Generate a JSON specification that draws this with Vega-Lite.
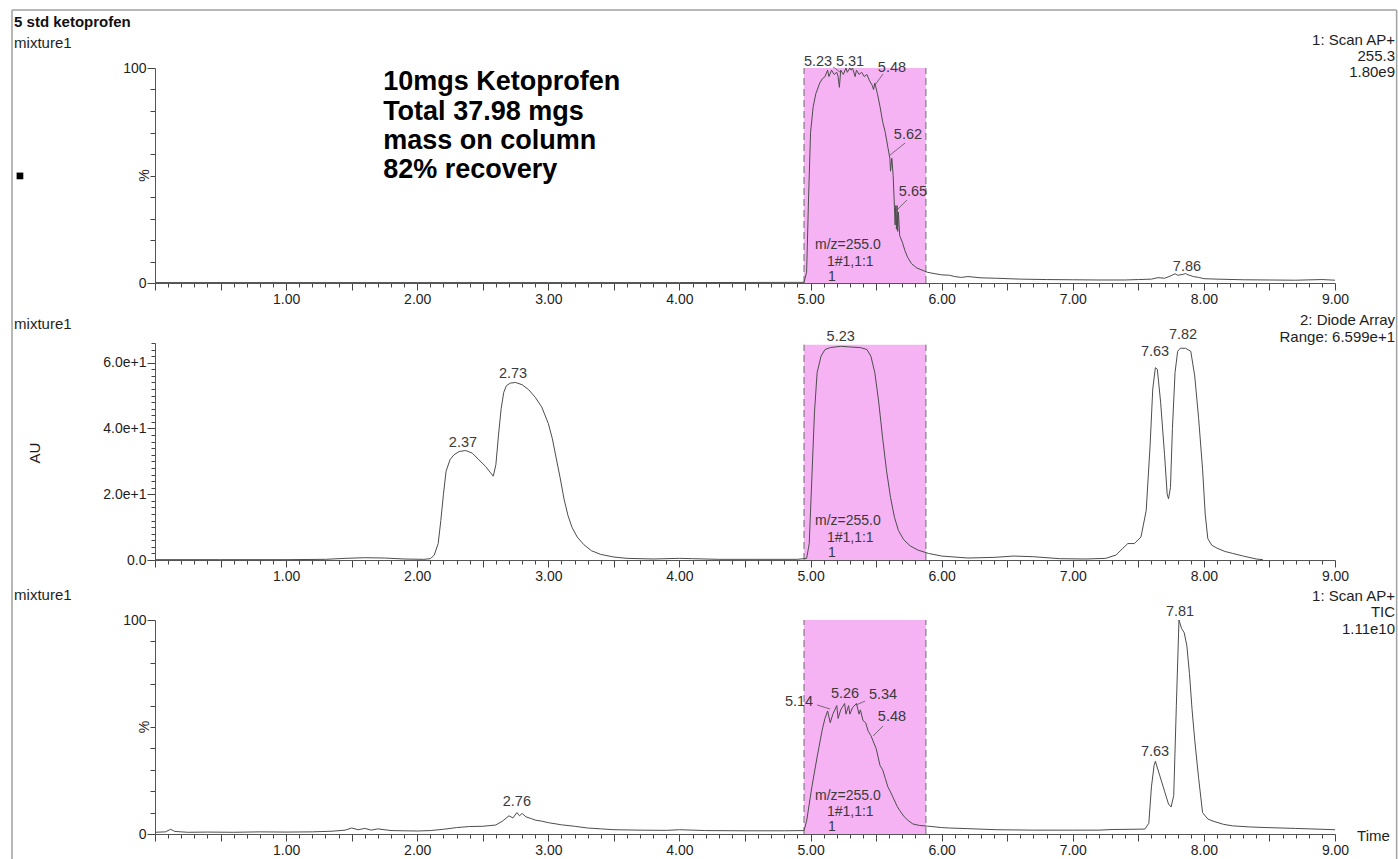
{
  "$schema": "https://vega.github.io/schema/vega-lite/v6.json",
  "padding": {"left": 11, "top": 9, "right": 0, "bottom": 0},
  "background": "white",
  "bounds": "flush",
  "spacing": 60,
  "config": {
    "view": {"stroke": null},
    "font": "Liberation Sans",
    "text": {"font": "Liberation Sans", "fontSize": 14, "color": "#2a2a2a"},
    "axis": {"grid": false, "title": null, "domainColor": "#555555", "tickColor": "#444444", "labelColor": "#1e1e1e", "labelFont": "Liberation Sans", "labelFontSize": 14, "domainWidth": 1, "tickWidth": 1, "labelOverlap": false, "labelFlush": false}
  },
  "datasets": {
    "ms255": [
      {"t": 0.0, "v": 0.2}, {"t": 1.0, "v": 0.2}, {"t": 2.0, "v": 0.2}, {"t": 3.0, "v": 0.2}, {"t": 4.0, "v": 0.2}, {"t": 4.95, "v": 0.3},
      {"t": 4.97, "v": 5}, {"t": 4.985, "v": 40}, {"t": 5.0, "v": 70}, {"t": 5.02, "v": 82}, {"t": 5.04, "v": 88}, {"t": 5.07, "v": 93},
      {"t": 5.09, "v": 95}, {"t": 5.11, "v": 96}, {"t": 5.13, "v": 99}, {"t": 5.14, "v": 96}, {"t": 5.16, "v": 99}, {"t": 5.18, "v": 97},
      {"t": 5.2, "v": 98}, {"t": 5.21, "v": 96}, {"t": 5.22, "v": 91}, {"t": 5.23, "v": 99}, {"t": 5.25, "v": 97}, {"t": 5.27, "v": 100},
      {"t": 5.28, "v": 98}, {"t": 5.3, "v": 100}, {"t": 5.31, "v": 99}, {"t": 5.32, "v": 100}, {"t": 5.34, "v": 96}, {"t": 5.35, "v": 99},
      {"t": 5.37, "v": 97}, {"t": 5.39, "v": 98}, {"t": 5.41, "v": 96}, {"t": 5.43, "v": 97}, {"t": 5.45, "v": 94}, {"t": 5.47, "v": 92},
      {"t": 5.48, "v": 90}, {"t": 5.49, "v": 93}, {"t": 5.51, "v": 88}, {"t": 5.53, "v": 82}, {"t": 5.55, "v": 75}, {"t": 5.57, "v": 70},
      {"t": 5.59, "v": 63}, {"t": 5.605, "v": 58}, {"t": 5.61, "v": 52}, {"t": 5.62, "v": 58}, {"t": 5.63, "v": 50}, {"t": 5.64, "v": 35},
      {"t": 5.645, "v": 27}, {"t": 5.65, "v": 36}, {"t": 5.655, "v": 25}, {"t": 5.66, "v": 36}, {"t": 5.665, "v": 24}, {"t": 5.67, "v": 33},
      {"t": 5.68, "v": 22}, {"t": 5.7, "v": 19}, {"t": 5.72, "v": 15}, {"t": 5.74, "v": 12}, {"t": 5.77, "v": 9}, {"t": 5.81, "v": 7},
      {"t": 5.85, "v": 6}, {"t": 5.89, "v": 5}, {"t": 5.95, "v": 4.3}, {"t": 6.0, "v": 3.8}, {"t": 6.06, "v": 3.6}, {"t": 6.1, "v": 3.0},
      {"t": 6.15, "v": 2.6}, {"t": 6.2, "v": 3.0}, {"t": 6.3, "v": 2.4}, {"t": 6.42, "v": 2.2}, {"t": 6.6, "v": 1.8}, {"t": 6.8, "v": 1.6},
      {"t": 7.0, "v": 1.5}, {"t": 7.2, "v": 1.4}, {"t": 7.4, "v": 1.4}, {"t": 7.5, "v": 1.6}, {"t": 7.6, "v": 1.8}, {"t": 7.65, "v": 2.5},
      {"t": 7.7, "v": 2.2}, {"t": 7.75, "v": 3.4}, {"t": 7.78, "v": 4.3}, {"t": 7.8, "v": 3.6}, {"t": 7.84, "v": 4.0}, {"t": 7.86, "v": 4.4},
      {"t": 7.88, "v": 3.8}, {"t": 7.92, "v": 3.0}, {"t": 7.96, "v": 2.6}, {"t": 8.0, "v": 2.0}, {"t": 8.1, "v": 1.8}, {"t": 8.3, "v": 1.5},
      {"t": 8.5, "v": 1.4}, {"t": 8.7, "v": 1.3}, {"t": 8.9, "v": 1.6}, {"t": 9.0, "v": 1.3}
    ],
    "dad": [
      {"t": 0.0, "v": 0.1}, {"t": 0.5, "v": 0.1}, {"t": 1.0, "v": 0.1}, {"t": 1.3, "v": 0.2}, {"t": 1.45, "v": 0.5}, {"t": 1.6, "v": 0.7},
      {"t": 1.75, "v": 0.6}, {"t": 1.9, "v": 0.3}, {"t": 2.05, "v": 0.2}, {"t": 2.1, "v": 0.4}, {"t": 2.13, "v": 1.5}, {"t": 2.16, "v": 5},
      {"t": 2.18, "v": 12}, {"t": 2.2, "v": 20}, {"t": 2.22, "v": 27}, {"t": 2.25, "v": 30.5}, {"t": 2.28, "v": 32}, {"t": 2.32, "v": 33},
      {"t": 2.37, "v": 33.3}, {"t": 2.42, "v": 32.5}, {"t": 2.47, "v": 30.5}, {"t": 2.52, "v": 28.5}, {"t": 2.56, "v": 26.5}, {"t": 2.58, "v": 25.5},
      {"t": 2.6, "v": 29}, {"t": 2.62, "v": 38}, {"t": 2.64, "v": 46}, {"t": 2.66, "v": 51}, {"t": 2.68, "v": 53}, {"t": 2.71, "v": 53.8},
      {"t": 2.75, "v": 54}, {"t": 2.8, "v": 53.3}, {"t": 2.85, "v": 51.8}, {"t": 2.9, "v": 49.5}, {"t": 2.95, "v": 46.5}, {"t": 3.0, "v": 41.5},
      {"t": 3.03, "v": 37}, {"t": 3.06, "v": 31}, {"t": 3.09, "v": 25}, {"t": 3.12, "v": 18.5}, {"t": 3.15, "v": 13.5}, {"t": 3.18, "v": 10},
      {"t": 3.22, "v": 7}, {"t": 3.27, "v": 4.7}, {"t": 3.33, "v": 2.8}, {"t": 3.4, "v": 1.7}, {"t": 3.5, "v": 0.9}, {"t": 3.6, "v": 0.5},
      {"t": 3.8, "v": 0.3}, {"t": 4.0, "v": 0.5}, {"t": 4.1, "v": 0.4}, {"t": 4.3, "v": 0.2}, {"t": 4.6, "v": 0.2}, {"t": 4.9, "v": 0.2},
      {"t": 4.97, "v": 0.5}, {"t": 4.99, "v": 5}, {"t": 5.01, "v": 25}, {"t": 5.03, "v": 45}, {"t": 5.05, "v": 57}, {"t": 5.08, "v": 62},
      {"t": 5.11, "v": 64}, {"t": 5.15, "v": 64.6}, {"t": 5.23, "v": 65}, {"t": 5.3, "v": 64.8}, {"t": 5.38, "v": 64.6}, {"t": 5.43, "v": 64},
      {"t": 5.46, "v": 62}, {"t": 5.49, "v": 57}, {"t": 5.52, "v": 48}, {"t": 5.55, "v": 37}, {"t": 5.58, "v": 27}, {"t": 5.61, "v": 19},
      {"t": 5.64, "v": 13}, {"t": 5.67, "v": 9}, {"t": 5.71, "v": 6.2}, {"t": 5.76, "v": 4.3}, {"t": 5.82, "v": 3}, {"t": 5.9, "v": 2},
      {"t": 6.0, "v": 1.2}, {"t": 6.2, "v": 0.6}, {"t": 6.4, "v": 0.8}, {"t": 6.55, "v": 1.2}, {"t": 6.7, "v": 1.0}, {"t": 6.9, "v": 0.4},
      {"t": 7.1, "v": 0.3}, {"t": 7.25, "v": 0.5}, {"t": 7.33, "v": 1.5}, {"t": 7.38, "v": 3.5}, {"t": 7.42, "v": 5}, {"t": 7.47, "v": 5},
      {"t": 7.52, "v": 7}, {"t": 7.56, "v": 15}, {"t": 7.59, "v": 35}, {"t": 7.61, "v": 52}, {"t": 7.63, "v": 58.5}, {"t": 7.645, "v": 58},
      {"t": 7.67, "v": 48}, {"t": 7.7, "v": 32}, {"t": 7.72, "v": 20}, {"t": 7.73, "v": 18.6}, {"t": 7.745, "v": 22}, {"t": 7.76, "v": 40},
      {"t": 7.78, "v": 57}, {"t": 7.8, "v": 63.5}, {"t": 7.82, "v": 64.4}, {"t": 7.86, "v": 64.4}, {"t": 7.9, "v": 63.5}, {"t": 7.93, "v": 56},
      {"t": 7.96, "v": 43}, {"t": 7.99, "v": 27.6}, {"t": 8.01, "v": 14}, {"t": 8.03, "v": 6.5}, {"t": 8.06, "v": 4.5}, {"t": 8.1, "v": 3.6},
      {"t": 8.16, "v": 2.6}, {"t": 8.22, "v": 2.0}, {"t": 8.3, "v": 1.2}, {"t": 8.4, "v": 0.3}, {"t": 8.45, "v": 0.1}
    ],
    "tic": [
      {"t": 0.0, "v": 0.8}, {"t": 0.08, "v": 1.0}, {"t": 0.12, "v": 2.2}, {"t": 0.15, "v": 1.2}, {"t": 0.25, "v": 0.8}, {"t": 0.4, "v": 0.9},
      {"t": 0.6, "v": 0.8}, {"t": 0.8, "v": 1.0}, {"t": 1.0, "v": 0.9}, {"t": 1.2, "v": 1.0}, {"t": 1.35, "v": 1.3}, {"t": 1.45, "v": 1.8},
      {"t": 1.5, "v": 2.8}, {"t": 1.55, "v": 2.0}, {"t": 1.6, "v": 2.6}, {"t": 1.65, "v": 1.8}, {"t": 1.7, "v": 2.4}, {"t": 1.8, "v": 1.6},
      {"t": 1.9, "v": 1.5}, {"t": 2.0, "v": 1.4}, {"t": 2.1, "v": 1.6}, {"t": 2.2, "v": 2.2}, {"t": 2.3, "v": 3.0}, {"t": 2.4, "v": 3.5},
      {"t": 2.5, "v": 3.6}, {"t": 2.6, "v": 4.2}, {"t": 2.65, "v": 6}, {"t": 2.7, "v": 8.5}, {"t": 2.73, "v": 7.5}, {"t": 2.76, "v": 10},
      {"t": 2.78, "v": 8.5}, {"t": 2.8, "v": 9.6}, {"t": 2.83, "v": 8}, {"t": 2.87, "v": 7.2}, {"t": 2.9, "v": 6.5}, {"t": 2.95, "v": 6},
      {"t": 3.0, "v": 5.3}, {"t": 3.1, "v": 4.3}, {"t": 3.2, "v": 3.6}, {"t": 3.3, "v": 2.8}, {"t": 3.4, "v": 2.4}, {"t": 3.5, "v": 2.0},
      {"t": 3.7, "v": 1.8}, {"t": 3.9, "v": 1.7}, {"t": 4.0, "v": 2.0}, {"t": 4.2, "v": 1.6}, {"t": 4.5, "v": 1.5}, {"t": 4.8, "v": 1.5},
      {"t": 4.95, "v": 1.6}, {"t": 4.97, "v": 6}, {"t": 5.01, "v": 22}, {"t": 5.05, "v": 36}, {"t": 5.09, "v": 49}, {"t": 5.11, "v": 54},
      {"t": 5.13, "v": 57.5}, {"t": 5.15, "v": 52}, {"t": 5.17, "v": 56}, {"t": 5.2, "v": 60}, {"t": 5.21, "v": 54}, {"t": 5.23, "v": 58},
      {"t": 5.26, "v": 61}, {"t": 5.27, "v": 56}, {"t": 5.29, "v": 60}, {"t": 5.3, "v": 56}, {"t": 5.32, "v": 59}, {"t": 5.35, "v": 61},
      {"t": 5.37, "v": 56}, {"t": 5.38, "v": 58}, {"t": 5.4, "v": 53}, {"t": 5.42, "v": 52}, {"t": 5.44, "v": 48}, {"t": 5.46, "v": 46},
      {"t": 5.48, "v": 43}, {"t": 5.5, "v": 40}, {"t": 5.53, "v": 32}, {"t": 5.55, "v": 30}, {"t": 5.57, "v": 26}, {"t": 5.59, "v": 22},
      {"t": 5.61, "v": 19.6}, {"t": 5.63, "v": 17}, {"t": 5.66, "v": 13}, {"t": 5.68, "v": 11}, {"t": 5.71, "v": 8.4}, {"t": 5.74, "v": 6.5},
      {"t": 5.78, "v": 4.7}, {"t": 5.83, "v": 4.0}, {"t": 5.89, "v": 3.7}, {"t": 6.0, "v": 3.0}, {"t": 6.06, "v": 2.8}, {"t": 6.2, "v": 2.5},
      {"t": 6.42, "v": 2.0}, {"t": 6.7, "v": 1.8}, {"t": 7.0, "v": 1.8}, {"t": 7.2, "v": 1.8}, {"t": 7.3, "v": 2.1}, {"t": 7.45, "v": 2.2},
      {"t": 7.55, "v": 2.3}, {"t": 7.58, "v": 5}, {"t": 7.6, "v": 22}, {"t": 7.62, "v": 32}, {"t": 7.63, "v": 34}, {"t": 7.66, "v": 28},
      {"t": 7.7, "v": 20}, {"t": 7.73, "v": 14}, {"t": 7.75, "v": 12.6}, {"t": 7.77, "v": 18}, {"t": 7.79, "v": 60}, {"t": 7.81, "v": 100},
      {"t": 7.83, "v": 96}, {"t": 7.85, "v": 94}, {"t": 7.87, "v": 88}, {"t": 7.89, "v": 75}, {"t": 7.91, "v": 58}, {"t": 7.93, "v": 44},
      {"t": 7.96, "v": 26}, {"t": 7.99, "v": 10}, {"t": 8.03, "v": 7}, {"t": 8.07, "v": 6}, {"t": 8.15, "v": 4.5}, {"t": 8.22, "v": 3.8},
      {"t": 8.35, "v": 3.3}, {"t": 8.48, "v": 3.0}, {"t": 8.7, "v": 2.6}, {"t": 8.9, "v": 2.2}, {"t": 9.0, "v": 2.0}
    ]
  },
  "vconcat": [
    {
      "width": 1180,
      "height": 215,
      "encoding": {
        "x": {"field": "t", "type": "quantitative", "scale": {"domain": [0, 9], "nice": false, "zero": false},
          "axis": {"tickCount": 90, "labelExpr": "datum.value >= 0.5 && abs(datum.value - round(datum.value)) < 0.001 ? format(datum.value, '.2f') : ''",
            "tickSize": {"condition": {"test": "abs(datum.value * 2 - round(datum.value * 2)) < 0.001", "value": 7}, "value": 4}, "labelPadding": 2}},
        "y": {"field": "v", "type": "quantitative", "scale": {"domain": [0, 100], "nice": false, "zero": false},
          "axis": {"tickCount": 10, "labelExpr": "datum.value == 0 || datum.value == 100 ? datum.label : ''",
            "tickSize": {"condition": {"test": "datum.value == 0 || datum.value == 100", "value": 8}, "value": 5}, "labelPadding": 1}}
      },
      "layer": [
        {"data": {"values": [
            {"t": -1.0907, "t2": -1.0907, "v": 127.0, "v2": -268.5},
            {"t": -1.0907, "t2": 9.47, "v": 127.0, "v2": 127.0},
            {"t": 9.47, "t2": 9.47, "v": 127.0, "v2": -268.5}]},
          "mark": {"type": "rule", "color": "#a0a0a0", "strokeWidth": 1.5},
          "encoding": {"x2": {"field": "t2"}, "y2": {"field": "v2"}}},
        {"data": {"values": [{"t": 4.95, "t2": 5.88, "v": 0, "v2": 100}]},
          "mark": {"type": "rect", "fill": "#F6B3F3", "stroke": null},
          "encoding": {"x2": {"field": "t2"}, "y2": {"field": "v2"}}},
        {"data": {"values": [{"t": 4.95, "v": 0, "v2": 100}, {"t": 5.88, "v": 0, "v2": 100}]},
          "mark": {"type": "rule", "color": "#6a6a6a", "strokeDash": [7, 4], "strokeWidth": 1},
          "encoding": {"y2": {"field": "v2"}}},
        {"data": {"name": "ms255"}, "mark": {"type": "line", "color": "#4d4d4d", "strokeWidth": 1}, "encoding": {}},
        {"data": {"values": [
            {"t": 5.172, "v": 100.5, "t2": 5.225, "v2": 98.1},
            {"t": 5.553, "v": 97.2, "t2": 5.485, "v2": 91.6},
            {"t": 5.721, "v": 65.1, "t2": 5.606, "v2": 59.5},
            {"t": 5.736, "v": 38.6, "t2": 5.66, "v2": 34.0}]},
          "mark": {"type": "rule", "color": "#555555", "strokeWidth": 0.8},
          "encoding": {"x2": {"field": "t2"}, "y2": {"field": "v2"}}},
        {"data": {"values": [
            {"t": 5.057, "v": 102.8, "label": "5.23"}, {"t": 5.301, "v": 102.8, "label": "5.31"},
            {"t": 5.621, "v": 100, "label": "5.48"}, {"t": 5.743, "v": 68.8, "label": "5.62"},
            {"t": 5.781, "v": 42.3, "label": "5.65"}, {"t": 7.871, "v": 7.4, "label": "7.86"}]},
          "mark": {"type": "text", "fontSize": 14.5, "color": "#3a3a3a", "align": "center", "baseline": "middle"},
          "encoding": {"text": {"field": "label"}}},
        {"data": {"values": [
            {"t": 5.034, "v": 17.7, "label": "m/z=255.0"}, {"t": 5.125, "v": 9.8, "label": "1#1,1:1"}, {"t": 5.133, "v": 2.8, "label": "1"}]},
          "mark": {"type": "text", "fontSize": 14, "color": "#3a3a3a", "align": "left", "baseline": "middle"},
          "encoding": {"text": {"field": "label"}}},
        {"data": {"values": [{"t": -1.075, "v": 121.4, "label": "5 std ketoprofen"}]},
          "mark": {"type": "text", "fontSize": 15, "fontWeight": "bold", "color": "#111111", "align": "left", "baseline": "middle"},
          "encoding": {"text": {"field": "label"}}},
        {"data": {"values": [{"t": -1.075, "v": 111.6, "label": "mixture1"}]},
          "mark": {"type": "text", "fontSize": 15, "color": "#1e1e1e", "align": "left", "baseline": "middle"},
          "encoding": {"text": {"field": "label"}}},
        {"data": {"values": [
            {"t": 9.458, "v": 113.0, "label": "1: Scan AP+"}, {"t": 9.458, "v": 105.6, "label": "255.3"}, {"t": 9.458, "v": 98.1, "label": "1.80e9"}]},
          "mark": {"type": "text", "fontSize": 15, "color": "#1e1e1e", "align": "right", "baseline": "middle"},
          "encoding": {"text": {"field": "label"}}},
        {"data": {"values": [
            {"t": 1.74, "v": 93.5, "label": "10mgs Ketoprofen"}, {"t": 1.74, "v": 79.5, "label": "Total 37.98 mgs"},
            {"t": 1.74, "v": 66.0, "label": "mass on column"}, {"t": 1.74, "v": 52.6, "label": "82% recovery"}]},
          "mark": {"type": "text", "fontSize": 27, "fontWeight": "bold", "color": "#000000", "align": "left", "baseline": "middle"},
          "encoding": {"text": {"field": "label"}}},
        {"data": {"values": [{"t": -0.08, "v": 50, "label": "%"}]},
          "mark": {"type": "text", "fontSize": 14, "color": "#1e1e1e", "align": "center", "baseline": "middle", "angle": 270},
          "encoding": {"text": {"field": "label"}}},
        {"data": {"values": [{"t": -1.03, "v": 49.8}]},
          "mark": {"type": "square", "color": "#000000", "size": 45, "filled": true, "opacity": 1},
          "encoding": {}}
      ]
    },
    {
      "width": 1180,
      "height": 217,
      "encoding": {
        "x": {"field": "t", "type": "quantitative", "scale": {"domain": [0, 9], "nice": false, "zero": false},
          "axis": {"tickCount": 90, "labelExpr": "datum.value >= 0.5 && abs(datum.value - round(datum.value)) < 0.001 ? format(datum.value, '.2f') : ''",
            "tickSize": {"condition": {"test": "abs(datum.value * 2 - round(datum.value * 2)) < 0.001", "value": 7}, "value": 4}, "labelPadding": 2}},
        "y": {"field": "v", "type": "quantitative", "scale": {"domain": [0, 66], "nice": false, "zero": false},
          "axis": {"tickCount": 33, "labelExpr": "datum.value % 20 == 0 ? (datum.value == 0 ? '0.0' : format(datum.value, '.1e')) : ''",
            "tickSize": {"condition": {"test": "datum.value % 20 == 0", "value": 8}, "value": 4}, "labelPadding": 1}}
      },
      "layer": [
        {"data": {"values": [{"t": 4.95, "t2": 5.88, "v": 0, "v2": 65.5}]},
          "mark": {"type": "rect", "fill": "#F6B3F3", "stroke": null},
          "encoding": {"x2": {"field": "t2"}, "y2": {"field": "v2"}}},
        {"data": {"values": [{"t": 4.95, "v": 0, "v2": 65.5}, {"t": 5.88, "v": 0, "v2": 65.5}]},
          "mark": {"type": "rule", "color": "#6a6a6a", "strokeDash": [7, 4], "strokeWidth": 1},
          "encoding": {"y2": {"field": "v2"}}},
        {"data": {"name": "dad"}, "mark": {"type": "line", "color": "#4d4d4d", "strokeWidth": 1}, "encoding": {}},
        {"data": {"values": [
            {"t": 2.349, "v": 35.6, "label": "2.37"}, {"t": 2.731, "v": 56.6, "label": "2.73"},
            {"t": 5.23, "v": 67.8, "label": "5.23"}, {"t": 7.627, "v": 63.3, "label": "7.63"}, {"t": 7.841, "v": 68.4, "label": "7.82"}]},
          "mark": {"type": "text", "fontSize": 14.5, "color": "#3a3a3a", "align": "center", "baseline": "middle"},
          "encoding": {"text": {"field": "label"}}},
        {"data": {"values": [
            {"t": 5.034, "v": 11.9, "label": "m/z=255.0"}, {"t": 5.125, "v": 6.7, "label": "1#1,1:1"}, {"t": 5.133, "v": 2.1, "label": "1"}]},
          "mark": {"type": "text", "fontSize": 14, "color": "#3a3a3a", "align": "left", "baseline": "middle"},
          "encoding": {"text": {"field": "label"}}},
        {"data": {"values": [{"t": -1.075, "v": 71.8, "label": "mixture1"}]},
          "mark": {"type": "text", "fontSize": 15, "color": "#1e1e1e", "align": "left", "baseline": "middle"},
          "encoding": {"text": {"field": "label"}}},
        {"data": {"values": [
            {"t": 9.458, "v": 73.0, "label": "2: Diode Array"}, {"t": 9.458, "v": 67.8, "label": "Range: 6.599e+1"}]},
          "mark": {"type": "text", "fontSize": 15, "color": "#1e1e1e", "align": "right", "baseline": "middle"},
          "encoding": {"text": {"field": "label"}}},
        {"data": {"values": [{"t": -0.915, "v": 32.5, "label": "AU"}]},
          "mark": {"type": "text", "fontSize": 15, "color": "#1e1e1e", "align": "center", "baseline": "middle", "angle": 270},
          "encoding": {"text": {"field": "label"}}}
      ]
    },
    {
      "width": 1180,
      "height": 214,
      "encoding": {
        "x": {"field": "t", "type": "quantitative", "scale": {"domain": [0, 9], "nice": false, "zero": false},
          "axis": {"tickCount": 90, "labelExpr": "datum.value >= 0.5 && abs(datum.value - round(datum.value)) < 0.001 ? format(datum.value, '.2f') : ''",
            "tickSize": {"condition": {"test": "abs(datum.value * 2 - round(datum.value * 2)) < 0.001", "value": 7}, "value": 4}, "labelPadding": 2}},
        "y": {"field": "v", "type": "quantitative", "scale": {"domain": [0, 100], "nice": false, "zero": false},
          "axis": {"tickCount": 10, "labelExpr": "datum.value == 0 || datum.value == 100 ? datum.label : ''",
            "tickSize": {"condition": {"test": "datum.value == 0 || datum.value == 100", "value": 8}, "value": 5}, "labelPadding": 1}}
      },
      "layer": [
        {"data": {"values": [{"t": 4.95, "t2": 5.88, "v": 0, "v2": 100}]},
          "mark": {"type": "rect", "fill": "#F6B3F3", "stroke": null},
          "encoding": {"x2": {"field": "t2"}, "y2": {"field": "v2"}}},
        {"data": {"values": [{"t": 4.95, "v": 0, "v2": 100}, {"t": 5.88, "v": 0, "v2": 100}]},
          "mark": {"type": "rule", "color": "#6a6a6a", "strokeDash": [7, 4], "strokeWidth": 1},
          "encoding": {"y2": {"field": "v2"}}},
        {"data": {"name": "tic"}, "mark": {"type": "line", "color": "#4d4d4d", "strokeWidth": 1}, "encoding": {}},
        {"data": {"values": [
            {"t": 5.05, "v": 60.3, "t2": 5.149, "v2": 58.4},
            {"t": 5.416, "v": 62.1, "t2": 5.347, "v2": 60.3},
            {"t": 5.553, "v": 50.5, "t2": 5.477, "v2": 45.8}]},
          "mark": {"type": "rule", "color": "#555555", "strokeWidth": 0.8},
          "encoding": {"x2": {"field": "t2"}, "y2": {"field": "v2"}}},
        {"data": {"values": [
            {"t": 2.76, "v": 15, "label": "2.76"}, {"t": 4.912, "v": 61.7, "label": "5.14"},
            {"t": 5.263, "v": 65.4, "label": "5.26"}, {"t": 5.553, "v": 65.0, "label": "5.34"},
            {"t": 5.621, "v": 54.7, "label": "5.48"}, {"t": 7.627, "v": 38.3, "label": "7.63"}, {"t": 7.818, "v": 103.7, "label": "7.81"}]},
          "mark": {"type": "text", "fontSize": 14.5, "color": "#3a3a3a", "align": "center", "baseline": "middle"},
          "encoding": {"text": {"field": "label"}}},
        {"data": {"values": [
            {"t": 5.034, "v": 17.8, "label": "m/z=255.0"}, {"t": 5.125, "v": 10.3, "label": "1#1,1:1"}, {"t": 5.133, "v": 3.3, "label": "1"}]},
          "mark": {"type": "text", "fontSize": 14, "color": "#3a3a3a", "align": "left", "baseline": "middle"},
          "encoding": {"text": {"field": "label"}}},
        {"data": {"values": [{"t": -1.075, "v": 111.7, "label": "mixture1"}]},
          "mark": {"type": "text", "fontSize": 15, "color": "#1e1e1e", "align": "left", "baseline": "middle"},
          "encoding": {"text": {"field": "label"}}},
        {"data": {"values": [
            {"t": 9.458, "v": 111.2, "label": "1: Scan AP+"}, {"t": 9.458, "v": 103.7, "label": "TIC"}, {"t": 9.458, "v": 95.8, "label": "1.11e10"}]},
          "mark": {"type": "text", "fontSize": 15, "color": "#1e1e1e", "align": "right", "baseline": "middle"},
          "encoding": {"text": {"field": "label"}}},
        {"data": {"values": [{"t": 9.168, "v": -0.9, "label": "Time"}]},
          "mark": {"type": "text", "fontSize": 15, "color": "#1e1e1e", "align": "left", "baseline": "middle"},
          "encoding": {"text": {"field": "label"}}},
        {"data": {"values": [{"t": -0.08, "v": 50, "label": "%"}]},
          "mark": {"type": "text", "fontSize": 14, "color": "#1e1e1e", "align": "center", "baseline": "middle", "angle": 270},
          "encoding": {"text": {"field": "label"}}}
      ]
    }
  ]
}
